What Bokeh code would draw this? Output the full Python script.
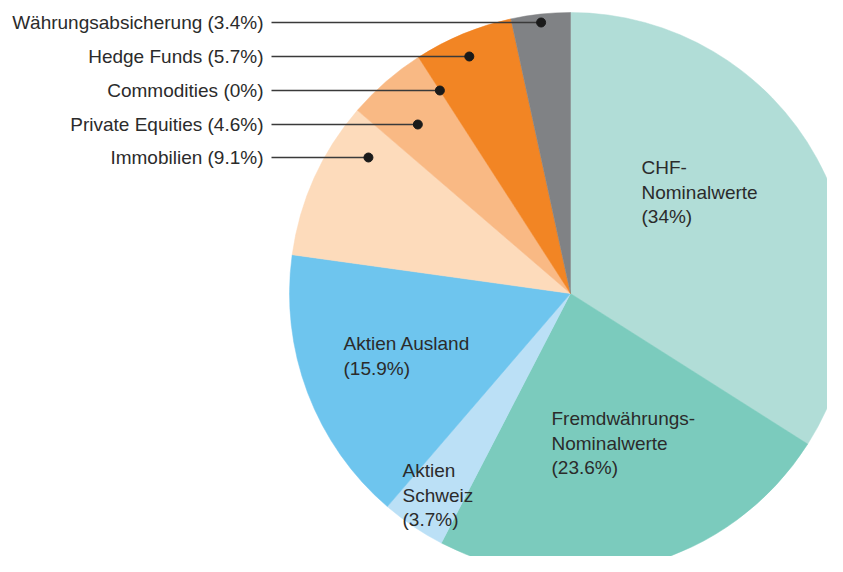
import math
from bokeh.plotting import figure
from bokeh.models import Range1d, ColumnDataSource
from bokeh.core.properties import value
from bokeh.embed import file_html
from bokeh.resources import INLINE

# ---------------- data ----------------
categories = ["CHF-Nominalwerte", "Fremdwährungs-Nominalwerte", "Aktien Schweiz",
              "Aktien Ausland", "Immobilien", "Private Equities", "Commodities",
              "Hedge Funds", "Währungsabsicherung"]
shares = [34.0, 23.6, 3.7, 15.9, 9.1, 4.6, 0.0, 5.7, 3.4]
colors = ["#b1ddd7", "#7bcbbd", "#bbe0f6", "#6ec5ee", "#fddbbb",
          "#f9b984", "#f7a25a", "#f28524", "#808285"]

# labels drawn inside the slices (lines of text)
inside_labels = {
    "CHF-Nominalwerte": ["CHF-", "Nominalwerte", "(34%)"],
    "Fremdwährungs-Nominalwerte": ["Fremdwährungs-", "Nominalwerte", "(23.6%)"],
    "Aktien Schweiz": ["Aktien", "Schweiz", "(3.7%)"],
    "Aktien Ausland": ["Aktien Ausland", "(15.9%)"],
}
outside_labels = ["Währungsabsicherung (3.4%)", "Hedge Funds (5.7%)", "Commodities (0%)",
                  "Private Equities (4.6%)", "Immobilien (9.1%)"]
outside_cats = ["Währungsabsicherung", "Hedge Funds", "Commodities",
                "Private Equities", "Immobilien"]

# ---------------- layout ----------------
W, H = 827, 556
CX, CY, R = 570, 263, 281
FONT = value("Liberation Sans")
FSIZE = "19px"
TXT = "#2b2b2b"
inside_pos = {  # left x, y of first line (data units)
    "CHF-Nominalwerte": (641, 389),
    "Fremdwährungs-Nominalwerte": (551, 138),
    "Aktien Schweiz": (402, 86),
    "Aktien Ausland": (343, 213),
}
LINE_STEP = 24.5
out_label_x = 263
out_line_x0 = 271
out_label_y = [534, 500, 466, 432, 399]

p = figure(width=W, height=H, output_backend="svg", toolbar_location=None,
           x_range=Range1d(0, W), y_range=Range1d(0, H), min_border=0)
p.axis.visible = False
p.grid.visible = False
p.outline_line_color = None
p.background_fill_color = "white"

# wedges
cum = [0.0]
for s in shares:
    cum.append(cum[-1] + s)
total = cum[-1]
starts = [math.pi / 2 - 2 * math.pi * cum[i] / total for i in range(len(shares))]
ends = [math.pi / 2 - 2 * math.pi * cum[i + 1] / total for i in range(len(shares))]
keep = [i for i, s in enumerate(shares) if s > 0]
src = ColumnDataSource(dict(
    start=[starts[i] for i in keep], end=[ends[i] for i in keep],
    color=[colors[i] for i in keep]))
p.wedge(x=CX, y=CY, radius=R, start_angle="start", end_angle="end",
        direction="clock", fill_color="color", line_color="color", line_width=0.5,
        source=src)

# inside labels
tx, ty, tt = [], [], []
for cat, lines in inside_labels.items():
    x0, y0 = inside_pos[cat]
    for k, ln in enumerate(lines):
        tx.append(x0); ty.append(y0 - k * LINE_STEP); tt.append(ln)
p.text(x=tx, y=ty, text=tt, text_font=FONT, text_font_size=FSIZE,
       text_color=TXT, text_baseline="middle", text_align="left")

# outside labels with leader lines and dots
def dot_x(idx, ylab):
    dy = ylab - CY
    t_lo = 360.0 * (1 - cum[idx + 1] / total)  # degrees left of top
    t_hi = 360.0 * (1 - cum[idx] / total)
    xr = CX - dy * math.tan(math.radians(t_lo))
    xl = CX - math.sqrt(max(R * R - dy * dy, 0))
    if t_hi < 90:
        xl = max(xl, CX - dy * math.tan(math.radians(t_hi)))
    return (xl + xr) / 2

dx_list = [dot_x(categories.index(cat), yl) for cat, yl in zip(outside_cats, out_label_y)]

p.segment(x0=[out_line_x0] * len(dx_list), y0=out_label_y, x1=dx_list, y1=out_label_y,
          line_color="#3a3a3a", line_width=1.3)
p.scatter(x=dx_list, y=out_label_y, size=9, fill_color="#1a1a1a", line_color="#1a1a1a")
p.text(x=[out_label_x] * len(outside_labels), y=out_label_y, text=outside_labels,
       text_font=FONT, text_font_size=FSIZE, text_color=TXT,
       text_baseline="middle", text_align="right")

open("out.html", "w").write(file_html(p, INLINE))
